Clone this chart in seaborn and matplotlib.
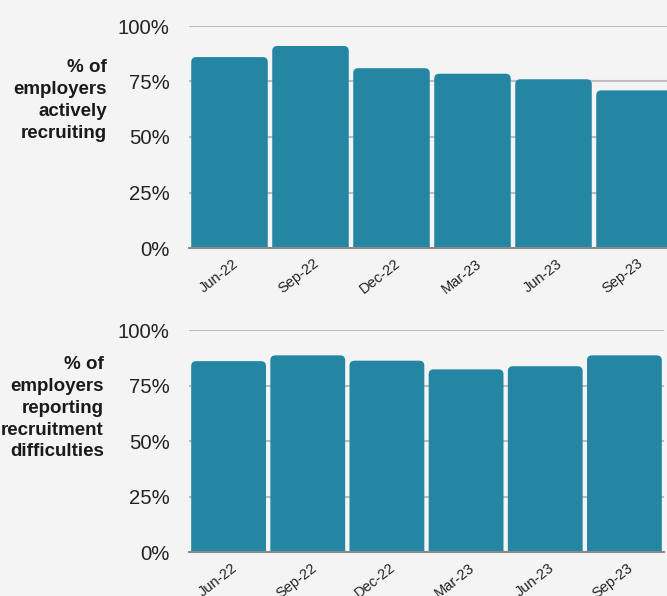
import matplotlib
matplotlib.use("Agg")
import matplotlib.pyplot as plt
import matplotlib.transforms as mtransforms
from matplotlib.patches import FancyBboxPatch
import seaborn as sns
import pandas as pd

quarters = ["Jun-22", "Sep-22", "Dec-22", "Mar-23", "Jun-23", "Sep-23"]
recruiting = [86, 91, 81, 78.5, 76, 71]
difficulties = [86, 88.6, 86.2, 82.3, 83.7, 88.6]
panel_labels = ["% of\nemployers\nactively\nrecruiting",
                "% of\nemployers\nreporting\nrecruitment\ndifficulties"]
yticks = [0, 25, 50, 75, 100]
ytick_labels = ["0%", "25%", "50%", "75%", "100%"]

BG = "#f4f4f4"
BAR = "#2586a4"
GRID = "#bdbdbd"

sns.set_theme(style="white")
plt.rcParams["font.family"] = ["Liberation Sans", "DejaVu Sans"]

fig = plt.figure(figsize=(6.67, 5.96), dpi=100, facecolor=BG)

W, H = 667, 596
axes_specs = [
    # left px, right px, top px (100%), bottom px (0%)
    (189, 675, 26, 248),
    (189, 664, 330, 552.3),
]
series = [recruiting, difficulties]
label_centers = [100.5, 408.3]
label_right = [107, 104]

for (lpx, rpx, tpx, bpx), vals, lab, lc, lr in zip(axes_specs, series, panel_labels,
                                                  label_centers, label_right):
    ax = fig.add_axes([lpx / W, (H - bpx) / H, (rpx - lpx) / W, (bpx - tpx) / H])
    ax.set_facecolor(BG)
    df = pd.DataFrame({"quarter": quarters, "value": vals})
    sns.barplot(data=df, x="quarter", y="value", color=BAR, width=0.945,
                saturation=1, ax=ax, zorder=2)
    ax.set_ylim(0, 100)
    ax.set_yticks(yticks)
    ax.set_yticklabels(ytick_labels)
    ax.set_xlabel("")
    ax.set_ylabel("")
    ax.set_axisbelow(True)
    ax.yaxis.grid(True, color=GRID, linewidth=1.5)
    ax.xaxis.grid(False)
    for s in ["left", "right", "top"]:
        ax.spines[s].set_visible(False)
    ax.spines["bottom"].set_color("#8a8a8a")
    ax.spines["bottom"].set_linewidth(1.5)
    ax.tick_params(axis="y", length=0, pad=14, labelsize=14.6, labelcolor="#222222")
    ax.tick_params(axis="x", length=0, pad=6, labelsize=10.5, labelcolor="#222222")

    # rounded top corners
    fig.canvas.draw()
    pxx = ax.transData.transform((1, 0))[0] - ax.transData.transform((0, 0))[0]
    pxy = ax.transData.transform((0, 1))[1] - ax.transData.transform((0, 0))[1]
    r_px = 5
    rx = r_px / pxx
    ry = r_px / pxy
    old = list(ax.patches)
    for p in old:
        x, y = p.get_x(), p.get_y()
        w, h = p.get_width(), p.get_height()
        p.remove()
        fb = FancyBboxPatch((x, y - ry), w, h + ry,
                            boxstyle=f"round,pad=0,rounding_size={rx}",
                            mutation_aspect=ry / rx,
                            facecolor=BAR, edgecolor="none", zorder=2)
        ax.add_patch(fb)

    offset = mtransforms.ScaledTranslation(2 / 72, 0, fig.dpi_scale_trans)
    for t in ax.get_xticklabels():
        t.set_rotation(38)
        t.set_ha("right")
        t.set_rotation_mode("anchor")
        t.set_transform(t.get_transform() + offset)

    fig.text(lr / W, (H - lc) / H, lab, ha="right", va="center",
             multialignment="right", fontsize=13.5, fontweight="bold",
             color="#1a1a1a", linespacing=1.37)

fig.savefig("out.png", dpi=100, facecolor=BG)
